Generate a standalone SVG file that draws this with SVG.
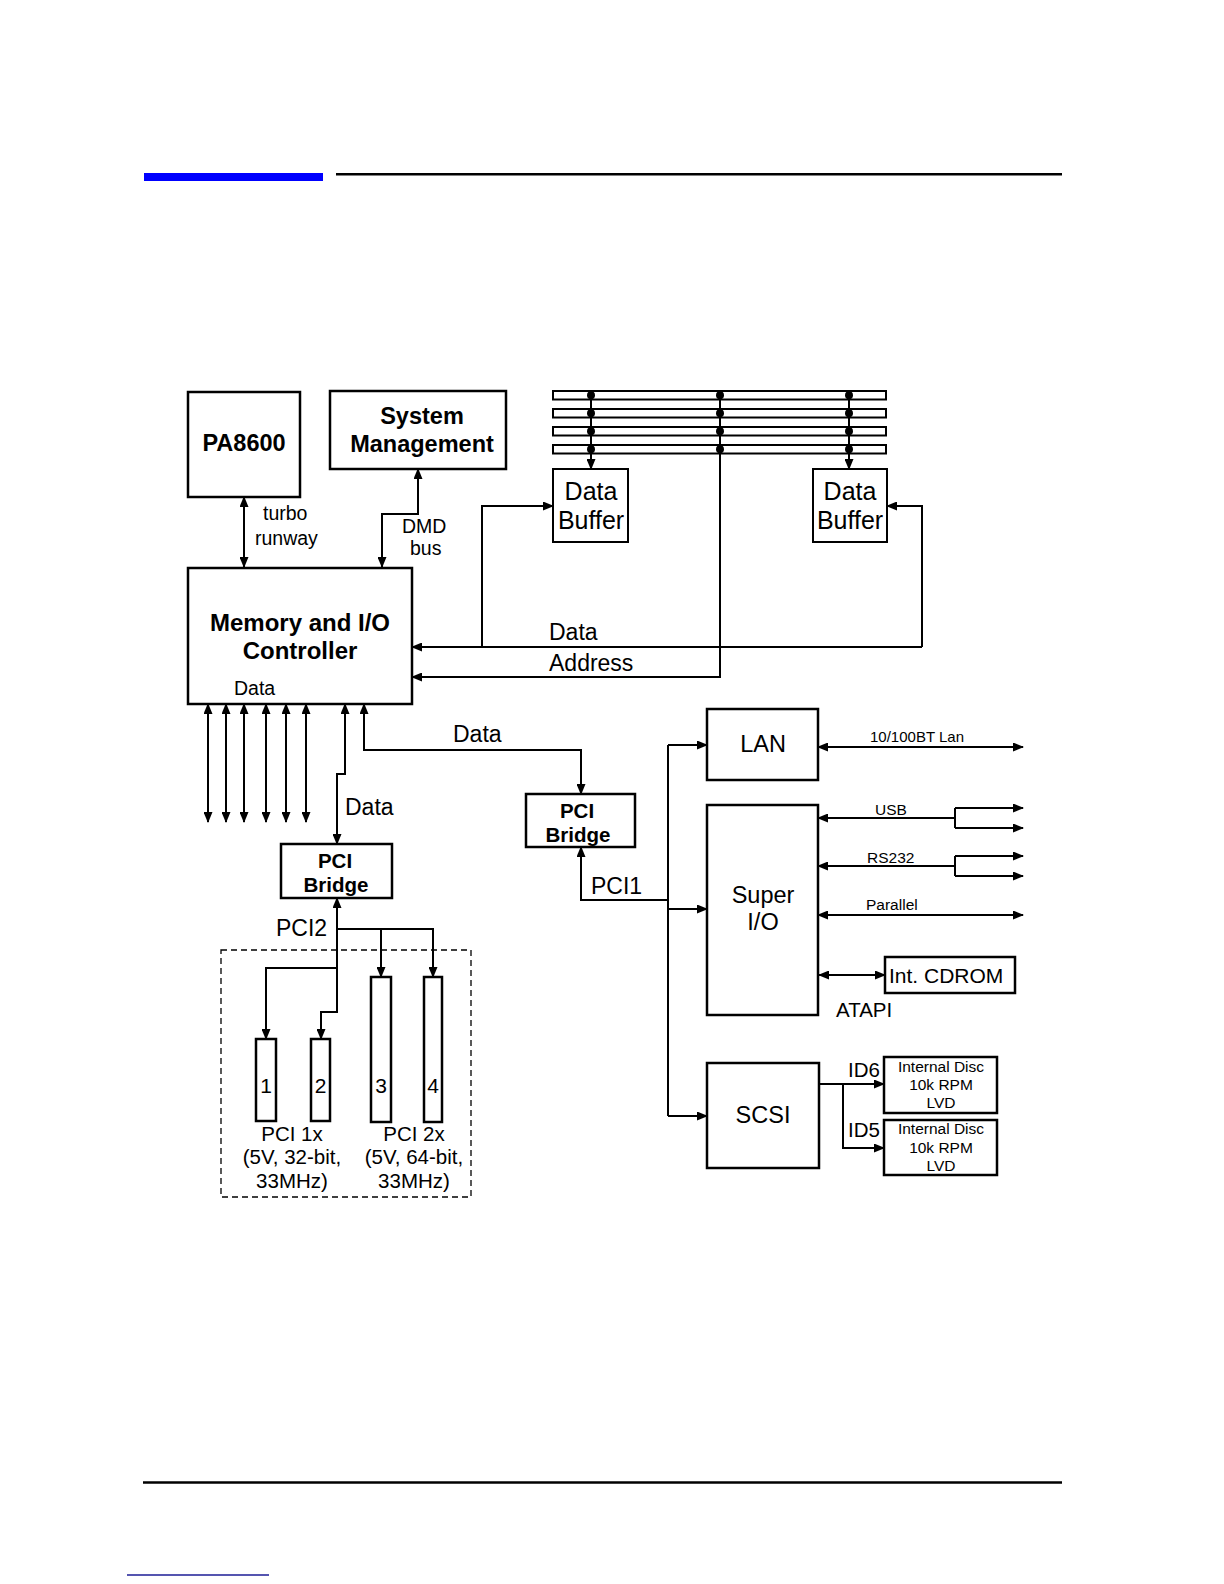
<svg xmlns="http://www.w3.org/2000/svg" width="1224" height="1584" viewBox="0 0 1224 1584">
<style>
text{font-family:"Liberation Sans",Arial,sans-serif;fill:#000}
.b{font-weight:bold}
.box{fill:#fff;stroke:#000;stroke-width:2.5}
.thin{fill:#fff;stroke:#000;stroke-width:2}
.c{fill:none;stroke:#000;stroke-width:2}
.m{text-anchor:middle}
</style>
<defs>
<marker id="ah" markerUnits="userSpaceOnUse" markerWidth="11" markerHeight="9" refX="10" refY="4.5" orient="auto-start-reverse">
<path d="M0,0 L11,4.5 L0,9 z" fill="#000"/>
</marker>
</defs>
<rect width="1224" height="1584" fill="#fff"/>
<g id="header">
<rect x="144" y="173" width="179" height="8" fill="#0000ff"/>
<line x1="336" y1="174.3" x2="1062" y2="174.3" stroke="#000" stroke-width="2.5"/>
</g>
<g id="footer">
<line x1="143" y1="1482.6" x2="1062" y2="1482.6" stroke="#000" stroke-width="2.5"/>
<line x1="127" y1="1575" x2="269" y2="1575" stroke="#1c1c96" stroke-width="1.5"/>
</g>
<g id="connectors">
<path class="c" d="M244,497 V567" marker-start="url(#ah)" marker-end="url(#ah)"/>
<path class="c" d="M418,469 V514 H382 V567" marker-start="url(#ah)" marker-end="url(#ah)"/>
<path class="c" d="M591,391 V469" marker-end="url(#ah)"/>
<path class="c" d="M849,391 V469" marker-end="url(#ah)"/>
<path class="c" d="M720,391 V677 H412" marker-end="url(#ah)"/>
<path class="c" d="M922,647 H412" marker-end="url(#ah)"/>
<path class="c" d="M922,647 V506 H887" marker-end="url(#ah)"/>
<path class="c" d="M482,647 V506 H553" marker-end="url(#ah)"/>
<path class="c" d="M208,704 V822" marker-start="url(#ah)" marker-end="url(#ah)"/>
<path class="c" d="M226,704 V822" marker-start="url(#ah)" marker-end="url(#ah)"/>
<path class="c" d="M244,704 V822" marker-start="url(#ah)" marker-end="url(#ah)"/>
<path class="c" d="M266,704 V822" marker-start="url(#ah)" marker-end="url(#ah)"/>
<path class="c" d="M286,704 V822" marker-start="url(#ah)" marker-end="url(#ah)"/>
<path class="c" d="M306,704 V822" marker-start="url(#ah)" marker-end="url(#ah)"/>
<path class="c" d="M345,704 V774 H337 V844" marker-start="url(#ah)" marker-end="url(#ah)"/>
<path class="c" d="M364,704 V750 H581 V794" marker-start="url(#ah)" marker-end="url(#ah)"/>
<path class="c" d="M337,898 V1012 H321 V1039" marker-start="url(#ah)" marker-end="url(#ah)"/>
<path class="c" d="M337,968 H266 V1039" marker-end="url(#ah)"/>
<path class="c" d="M337,929 H433 V977" marker-end="url(#ah)"/>
<path class="c" d="M381,929 V977" marker-end="url(#ah)"/>
<path class="c" d="M581,847 V900 H668" marker-start="url(#ah)" stroke-width="2.5"/>
<path class="c" d="M668,745 V1116"/>
<path class="c" d="M668,745 H707" marker-end="url(#ah)"/>
<path class="c" d="M668,909 H707" marker-end="url(#ah)"/>
<path class="c" d="M668,1116 H707" marker-end="url(#ah)"/>
<path class="c" d="M818,747 H1023" marker-start="url(#ah)" marker-end="url(#ah)"/>
<path class="c" d="M818,818 H955" marker-start="url(#ah)"/>
<path class="c" d="M955,808 V828"/>
<path class="c" d="M955,808 H1023" marker-end="url(#ah)"/>
<path class="c" d="M955,828 H1023" marker-end="url(#ah)"/>
<path class="c" d="M818,866 H955" marker-start="url(#ah)"/>
<path class="c" d="M955,856 V876"/>
<path class="c" d="M955,856 H1023" marker-end="url(#ah)"/>
<path class="c" d="M955,876 H1023" marker-end="url(#ah)"/>
<path class="c" d="M818,915 H1023" marker-start="url(#ah)" marker-end="url(#ah)"/>
<path class="c" d="M819,975 H885" marker-start="url(#ah)" marker-end="url(#ah)"/>
<path class="c" d="M819,1084 H884" marker-end="url(#ah)"/>
<path class="c" d="M843,1084 V1148 H884" marker-end="url(#ah)"/>
</g>
<g id="memory-bus">
<rect class="thin" x="553" y="391" width="333" height="8.5"/>
<rect class="thin" x="553" y="409" width="333" height="8.5"/>
<rect class="thin" x="553" y="427" width="333" height="8.5"/>
<rect class="thin" x="553" y="445" width="333" height="8.5"/>
<g fill="#000">
<circle cx="591" cy="395.2" r="4"/><circle cx="591" cy="413.2" r="4"/><circle cx="591" cy="431.2" r="4"/><circle cx="591" cy="449.2" r="4"/>
<circle cx="720" cy="395.2" r="4"/><circle cx="720" cy="413.2" r="4"/><circle cx="720" cy="431.2" r="4"/><circle cx="720" cy="449.2" r="4"/>
<circle cx="849" cy="395.2" r="4"/><circle cx="849" cy="413.2" r="4"/><circle cx="849" cy="431.2" r="4"/><circle cx="849" cy="449.2" r="4"/>
</g>
<path class="c" d="M591,391 V460 M720,391 V460 M849,391 V460"/>
</g>
<g id="pa8600">
<rect class="box" x="188" y="392" width="112" height="105"/>
<text class="b m" x="244" y="451" font-size="23.5">PA8600</text>
</g>
<g id="system-management">
<rect class="box" x="330" y="391" width="176" height="78"/>
<text class="b m" x="422" y="424" font-size="23.5">System</text>
<text class="b m" x="422" y="452" font-size="23.5">Management</text>
</g>
<g id="memory-io-controller">
<rect class="box" x="188" y="568" width="224" height="136"/>
<text class="b m" x="300" y="631" font-size="24">Memory and I/O</text>
<text class="b m" x="300" y="659" font-size="24">Controller</text>
<text x="234" y="695" font-size="19.5">Data</text>
</g>
<g id="data-buffer-1">
<rect class="thin" x="553" y="469" width="75" height="73"/>
<text class="m" x="591" y="500" font-size="25">Data</text>
<text class="m" x="591" y="529" font-size="25">Buffer</text>
</g>
<g id="data-buffer-2">
<rect class="thin" x="813" y="469" width="74" height="73"/>
<text class="m" x="850" y="500" font-size="25">Data</text>
<text class="m" x="850" y="529" font-size="25">Buffer</text>
</g>
<g id="labels">
<text x="263" y="520" font-size="19.5">turbo</text>
<text x="255" y="545" font-size="19.5">runway</text>
<text x="402" y="533" font-size="19.5">DMD</text>
<text x="410" y="555" font-size="19.5">bus</text>
<text x="549" y="640" font-size="23">Data</text>
<text x="549" y="671" font-size="23">Address</text>
<text x="453" y="742" font-size="23">Data</text>
<text x="345" y="815" font-size="23">Data</text>
<text x="276" y="936" font-size="23">PCI2</text>
<text x="591" y="894" font-size="23">PCI1</text>
<text x="870" y="742" font-size="15">10/100BT Lan</text>
<text x="875" y="815" font-size="15.5">USB</text>
<text x="867" y="863" font-size="15.5">RS232</text>
<text x="866" y="910" font-size="15.5">Parallel</text>
<text x="836" y="1017" font-size="20.5">ATAPI</text>
<text x="848" y="1077" font-size="20.5">ID6</text>
<text x="848" y="1137" font-size="20.5">ID5</text>
<text class="m" x="292" y="1141" font-size="20.5">PCI 1x</text>
<text class="m" x="292" y="1164" font-size="20.5">(5V, 32-bit,</text>
<text class="m" x="292" y="1188" font-size="20.5">33MHz)</text>
<text class="m" x="414" y="1141" font-size="20.5">PCI 2x</text>
<text class="m" x="414" y="1164" font-size="20.5">(5V, 64-bit,</text>
<text class="m" x="414" y="1188" font-size="20.5">33MHz)</text>
</g>
<g id="pci-bridge-2">
<rect class="box" x="281" y="844" width="111" height="54"/>
<text class="b m" x="335" y="868" font-size="20.5">PCI</text>
<text class="b m" x="336" y="892" font-size="20.5">Bridge</text>
</g>
<g id="pci-bridge-1">
<rect class="box" x="526" y="794" width="109" height="53"/>
<text class="b m" x="577" y="818" font-size="20.5">PCI</text>
<text class="b m" x="578" y="842" font-size="20.5">Bridge</text>
</g>
<g id="pci-slots">
<rect x="221" y="950" width="250" height="247" fill="none" stroke="#000" stroke-width="1.3" stroke-dasharray="6,4"/>
</g>
<g id="slot-1">
<rect class="box" x="256" y="1039" width="20" height="82"/>
<text class="m" x="266" y="1093" font-size="21">1</text>
</g>
<g id="slot-2">
<rect class="box" x="311" y="1039" width="19" height="82"/>
<text class="m" x="320.5" y="1093" font-size="21">2</text>
</g>
<g id="slot-3">
<rect class="box" x="371" y="977" width="20" height="145"/>
<text class="m" x="381" y="1093" font-size="21">3</text>
</g>
<g id="slot-4">
<rect class="box" x="424" y="977" width="18" height="145"/>
<text class="m" x="433" y="1093" font-size="21">4</text>
</g>
<g id="lan">
<rect class="box" x="707" y="709" width="111" height="71"/>
<text class="m" x="763" y="752" font-size="23.5">LAN</text>
</g>
<g id="super-io">
<rect class="box" x="707" y="805" width="111" height="210"/>
<text class="m" x="763" y="903" font-size="23.5">Super</text>
<text class="m" x="763" y="930" font-size="23.5">I/O</text>
</g>
<g id="scsi">
<rect class="box" x="707" y="1063" width="112" height="105"/>
<text class="m" x="763" y="1123" font-size="23.5">SCSI</text>
</g>
<g id="int-cdrom">
<rect class="box" x="885" y="957" width="130" height="36"/>
<text x="889" y="983" font-size="21">Int. CDROM</text>
</g>
<g id="disc-id6">
<rect class="box" x="884" y="1057" width="113" height="56"/>
<text class="m" x="941" y="1072" font-size="15.5">Internal Disc</text>
<text class="m" x="941" y="1090" font-size="15.5">10k RPM</text>
<text class="m" x="941" y="1108" font-size="15.5">LVD</text>
</g>
<g id="disc-id5">
<rect class="box" x="884" y="1120" width="113" height="55"/>
<text class="m" x="941" y="1134" font-size="15.5">Internal Disc</text>
<text class="m" x="941" y="1153" font-size="15.5">10k RPM</text>
<text class="m" x="941" y="1171" font-size="15.5">LVD</text>
</g>
</svg>
